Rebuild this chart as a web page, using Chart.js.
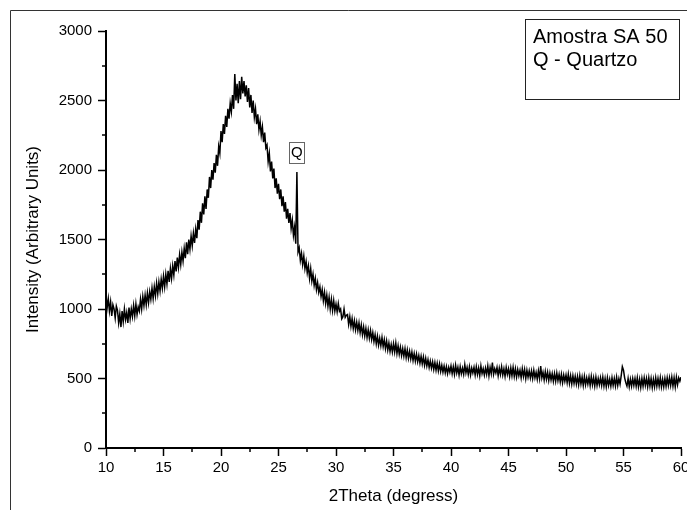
<!DOCTYPE html>
<html>
<head>
<meta charset="utf-8">
<script src="https://cdn.jsdelivr.net/npm/chart.js@4/dist/chart.umd.min.js"></script>
<style>
    body { margin: 0; background: #fff; }
</style>
</head>
<body>
<canvas id="xrd" width="687" height="510"></canvas>
<script>
// 2theta sampling grid: 10 to 60 degrees, 0.1 degree apart
var thetaStart = 10
var thetaStep = 0.1

// intensity, one row per degree
var counts10to20 = [
    1100, 1010, 1075, 985, 1050, 950, 1030, 1000, 935, 1020,
    990, 900, 965, 870, 985, 910, 1000, 925, 975, 900,
    1010, 930, 1000, 945, 1025, 950, 1035, 960, 1015, 985,
    1070, 1000, 1090, 1025, 1100, 1030, 1115, 1045, 1125, 1070,
    1150, 1075, 1160, 1095, 1185, 1110, 1195, 1130, 1215, 1150,
    1235, 1160, 1250, 1180, 1275, 1195, 1290, 1220, 1310, 1245,
    1345, 1270, 1370, 1300, 1390, 1320, 1410, 1345, 1435, 1365,
    1480, 1395, 1500, 1430, 1525, 1455, 1545, 1475, 1575, 1510,
    1640, 1570, 1700, 1620, 1760, 1680, 1810, 1720, 1860, 1800,
    1950, 1870, 2000, 1930, 2050, 1980, 2110, 2030, 2170, 2120
]
var counts20to30 = [
    2280, 2200, 2330, 2260, 2390, 2310, 2440, 2370, 2480, 2420,
    2540, 2440, 2690, 2500, 2620, 2480, 2640, 2510, 2670, 2550,
    2640, 2530, 2610, 2490, 2590, 2450, 2540, 2410, 2500, 2380,
    2440, 2330, 2400, 2290, 2350, 2250, 2310, 2200, 2270, 2160,
    2180, 2060, 2120, 1990, 2060, 1940, 2010, 1870, 1940, 1830,
    1900, 1790, 1860, 1740, 1810, 1700, 1770, 1650, 1720, 1620,
    1690, 1580, 1640, 1530, 1590, 1470, 1985, 1410, 1440, 1350,
    1400, 1320, 1380, 1290, 1340, 1260, 1310, 1220, 1290, 1200,
    1250, 1170, 1220, 1140, 1190, 1120, 1160, 1090, 1140, 1060,
    1120, 1040, 1100, 1020, 1085, 1000, 1070, 990, 1060, 985
]
var counts30to40 = [
    1035, 980, 1040, 985, 1000, 930, 945, 1000, 940, 955,
    960, 890, 945, 875, 930, 860, 915, 850, 905, 845,
    900, 830, 885, 815, 870, 805, 860, 795, 850, 790,
    845, 780, 830, 765, 815, 750, 805, 740, 790, 735,
    795, 730, 780, 715, 770, 705, 755, 695, 745, 690,
    750, 690, 755, 680, 735, 675, 725, 665, 715, 660,
    715, 650, 705, 645, 695, 640, 690, 630, 680, 625,
    675, 620, 665, 610, 660, 605, 655, 595, 645, 590,
    635, 580, 625, 575, 620, 565, 615, 560, 610, 555,
    605, 550, 595, 545, 590, 540, 585, 535, 580, 545
]
var counts40to50 = [
    590, 535, 585, 530, 595, 540, 580, 525, 585, 535,
    575, 530, 600, 540, 580, 530, 585, 525, 575, 540,
    580, 525, 585, 530, 575, 520, 590, 535, 570, 525,
    575, 530, 590, 520, 580, 535, 615, 530, 570, 540,
    580, 520, 575, 530, 585, 525, 570, 515, 580, 530,
    570, 515, 575, 520, 580, 515, 570, 510, 565, 520,
    560, 505, 570, 515, 565, 500, 560, 510, 555, 505,
    555, 500, 560, 505, 545, 495, 555, 500, 590, 505,
    545, 490, 550, 495, 545, 485, 540, 490, 535, 480,
    535, 480, 540, 485, 530, 475, 530, 470, 525, 480
]
var counts50to60 = [
    525, 470, 530, 465, 520, 460, 520, 465, 515, 460,
    515, 455, 520, 460, 510, 450, 515, 455, 505, 460,
    510, 450, 515, 455, 505, 445, 510, 450, 500, 455,
    505, 450, 510, 445, 500, 440, 505, 450, 495, 445,
    505, 450, 500, 445, 510, 450, 500, 460, 520, 585,
    560, 505, 470, 445, 500, 440, 495, 445, 500, 450,
    500, 445, 505, 440, 495, 435, 500, 445, 505, 450,
    500, 440, 505, 445, 500, 435, 495, 440, 505, 445,
    500, 445, 505, 440, 495, 440, 500, 445, 505, 450,
    505, 450, 510, 445, 505, 440, 510, 455, 505, 480,
    510
]

var legendLines = ['Amostra SA 50', 'Q - Quartzo']
var peakLabel = 'Q'
var peakTheta = 26.6
var peakCounts = 1985

var counts = counts10to20.concat(counts20to30, counts30to40, counts40to50, counts50to60)
var points = counts.map(function(c, i) {
    return { x: Math.round((thetaStart + i * thetaStep) * 10) / 10, y: c }
})

Chart.defaults.font.family = '"Liberation Sans", Arial, sans-serif'
Chart.defaults.color = '#000'

function line(ctx, x1, y1, x2, y2) {
    ctx.beginPath()
    ctx.moveTo(x1, y1)
    ctx.lineTo(x2, y2)
    ctx.stroke()
}

var decorations = {
    id: 'decorations',
    afterDraw: function(chart) {
        var ctx = chart.ctx
        var xs = chart.scales.x
        var ys = chart.scales.y
        ctx.save()

        // minor ticks
        ctx.strokeStyle = '#000'
        ctx.lineWidth = 1.5
        for (var v = 12.5; v < 60; v += 5) {
            var px = Math.round(xs.getPixelForValue(v))
            line(ctx, px, ys.bottom, px, ys.bottom + 4)
        }
        for (var w = 250; w < 3000; w += 500) {
            var py = Math.round(ys.getPixelForValue(w))
            line(ctx, xs.left - 4, py, xs.left, py)
        }

        // outer frame
        ctx.strokeStyle = '#333'
        ctx.lineWidth = 1
        line(ctx, 10.5, 10.5, 687, 10.5)
        line(ctx, 10.5, 10.5, 10.5, 510)

        // legend box
        ctx.fillStyle = '#fff'
        ctx.fillRect(525, 19, 154, 80)
        ctx.strokeStyle = '#222'
        ctx.strokeRect(525.5, 19.5, 154, 80)
        ctx.fillStyle = '#000'
        ctx.font = '20px "Liberation Sans", Arial, sans-serif'
        ctx.textBaseline = 'alphabetic'
        ctx.textAlign = 'left'
        ctx.fillText(legendLines[0], 533, 43)
        ctx.fillText(legendLines[1], 533, 66)

        // peak label
        var qx = xs.getPixelForValue(peakTheta)
        var qy = ys.getPixelForValue(peakCounts) - 9
        ctx.strokeStyle = '#666'
        ctx.strokeRect(Math.round(qx - 8) + 0.5, Math.round(qy - 21) + 0.5, 15, 21)
        ctx.fillStyle = '#000'
        ctx.font = '15px "Liberation Sans", Arial, sans-serif'
        ctx.textAlign = 'center'
        ctx.textBaseline = 'middle'
        ctx.fillText(peakLabel, qx, qy - 10)

        ctx.restore()
    }
}

new Chart(document.getElementById('xrd'), {
    type: 'line',
    data: {
        datasets: [{
            data: points,
            borderColor: '#000',
            borderWidth: 1.5,
            pointRadius: 0,
            tension: 0,
            fill: false
        }]
    },
    options: {
        responsive: false,
        animation: false,
        parsing: false,
        layout: { padding: { left: 0, right: 6, top: 31, bottom: 0 } },
        plugins: { legend: { display: false }, tooltip: { enabled: false } },
        scales: {
            x: {
                type: 'linear',
                min: 10,
                max: 60,
                border: { color: '#000', width: 2 },
                grid: { drawOnChartArea: false, drawTicks: true, tickLength: 8, tickWidth: 1.5, tickColor: '#000' },
                ticks: { stepSize: 5, padding: 3, maxRotation: 0, font: { size: 15 } },
                title: { display: true, text: '2Theta (degress)', font: { size: 17 }, padding: { top: 0, bottom: 3 } },
                afterFit: function(scale) {
                    scale.height = 62
                    scale.paddingLeft = 0
                    scale.paddingRight = 0
                }
            },
            y: {
                min: 0,
                max: 3000,
                border: { color: '#000', width: 2 },
                grid: { drawOnChartArea: false, drawTicks: true, tickLength: 8, tickWidth: 1.5, tickColor: '#000' },
                ticks: {
                    stepSize: 500,
                    padding: 6,
                    font: { size: 15 },
                    callback: function(value) { return String(value) }
                },
                title: { display: true, text: 'Intensity (Arbitrary Units)', font: { size: 17 }, padding: { top: 23, bottom: 0 } },
                afterFit: function(scale) {
                    scale.width = 106
                    scale.paddingTop = 0
                    scale.paddingBottom = 0
                }
            }
        }
    },
    plugins: [decorations]
})
</script>
</body>
</html>
